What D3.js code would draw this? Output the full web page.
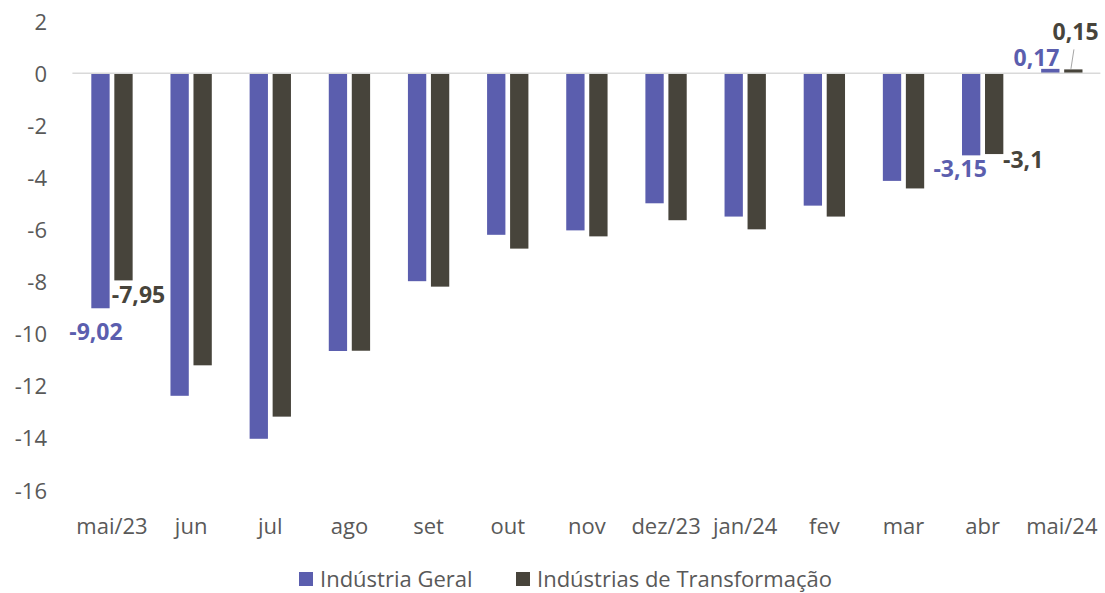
<!DOCTYPE html>
<html>
<head>
<meta charset="utf-8">
<script src="https://cdn.jsdelivr.net/npm/d3@7"></script>
<style>
  html, body { margin: 0; padding: 0; background: #ffffff; }
  svg { display: block; }
  text { font-family: "Open Sans", "Noto Sans", sans-serif; }
</style>
</head>
<body>
<svg id="chart" width="1105" height="593"></svg>
<script>
// ---- data ----
const categories = ["mai/23","jun","jul","ago","set","out","nov","dez/23","jan/24","fev","mar","abr","mai/24"];
const geral  = [-9.02,-12.38,-14.03,-10.66,-7.98,-6.20,-6.03,-4.99,-5.50,-5.08,-4.13,-3.15,0.17];
const transf = [-7.95,-11.21,-13.18,-10.65,-8.19,-6.73,-6.26,-5.64,-5.99,-5.50,-4.42,-3.10,0.15];
const seriesNames = ["Indústria Geral","Indústrias de Transformação"];
const yTicks = [2,0,-2,-4,-6,-8,-10,-12,-14,-16];
const labelledIdx = [0, 11, 12];

const colors = ["#5B5EAE", "#47443B"];
const fmt = v => String(v).replace(".", ",");

const svg = d3.select("#chart");

const x = d3.scaleBand().domain(categories).range([72.4, 1101.4]).padding(0);
const xs = d3.scaleBand().domain([0,1]).range([0, x.bandwidth()]).paddingInner(0.204).paddingOuter(0.822);
const y = d3.scaleLinear().domain([-16, 2]).range([490.1, 21.2]);

const series = [geral, transf];

// y axis labels
const yAxis = d3.axisLeft(y).tickValues(yTicks).tickSize(0).tickPadding(0).tickFormat(d => d);
const yg = svg.append("g").attr("transform", "translate(47,0)").call(yAxis);
yg.select(".domain").remove();
yg.selectAll("text").attr("font-size", 22).attr("fill", "#595959").attr("font-family", "Open Sans").attr("dy", "0.36em");

// bars
series.forEach((vals, si) => {
  svg.append("g").selectAll("rect").data(vals).join("rect")
    .attr("x", (d, i) => x(categories[i]) + xs(si))
    .attr("width", xs.bandwidth())
    .attr("y", d => y(Math.max(0, d)))
    .attr("height", d => Math.abs(y(d) - y(0)))
    .attr("fill", colors[si]);
});

// zero line
svg.append("line")
  .attr("x1", x.range()[0]).attr("x2", x.range()[1] - 1)
  .attr("y1", y(0)).attr("y2", y(0))
  .attr("stroke", "#d9d9d9").attr("stroke-width", 1.5);

// x axis labels
const xAxis = d3.axisBottom(x).tickSize(0).tickPadding(0);
const xg = svg.append("g").attr("transform", "translate(0,534)").call(xAxis);
xg.select(".domain").remove();
xg.selectAll("text").attr("font-size", 22).attr("fill", "#595959").attr("font-family", "Open Sans").attr("dy", "0");

// data labels
const labelOffsets = {
  "0-0": [-4.5, 32], "1-0": [15, 23],
  "0-11": [-11, 22], "1-11": [29, 14],
  "0-12": [-13.8, -3], "1-12": [2.2, -29]
};
series.forEach((vals, si) => {
  labelledIdx.forEach(i => {
    const v = vals[i];
    const cx = x(categories[i]) + xs(si) + xs.bandwidth() / 2;
    const edge = y(v);
    const off = labelOffsets[si + "-" + i];
    svg.append("text")
      .attr("x", cx + off[0]).attr("y", edge + off[1])
      .attr("text-anchor", "middle")
      .attr("font-size", 23).attr("font-weight", 700)
      .attr("fill", colors[si])
      .text(fmt(v));
  });
});
// leader line for last transf label
{
  const i = 12;
  const cx = x(categories[i]) + xs(1) + xs.bandwidth() / 2;
  svg.append("line")
    .attr("x1", cx + 0.6).attr("y1", y(transf[i]) - 20)
    .attr("x2", cx - 2.4).attr("y2", y(transf[i]) - 0.5)
    .attr("stroke", "#a6a6a6").attr("stroke-width", 1);
}

// legend
const legend = svg.append("g");
const legendX = [299, 516];
seriesNames.forEach((name, si) => {
  legend.append("rect").attr("x", legendX[si]).attr("y", 572).attr("width", 14).attr("height", 14).attr("fill", colors[si]);
  legend.append("text").attr("x", legendX[si] + 21).attr("y", 587)
    .attr("font-size", 22).attr("fill", "#595959").text(name);
});
</script>
</body>
</html>
